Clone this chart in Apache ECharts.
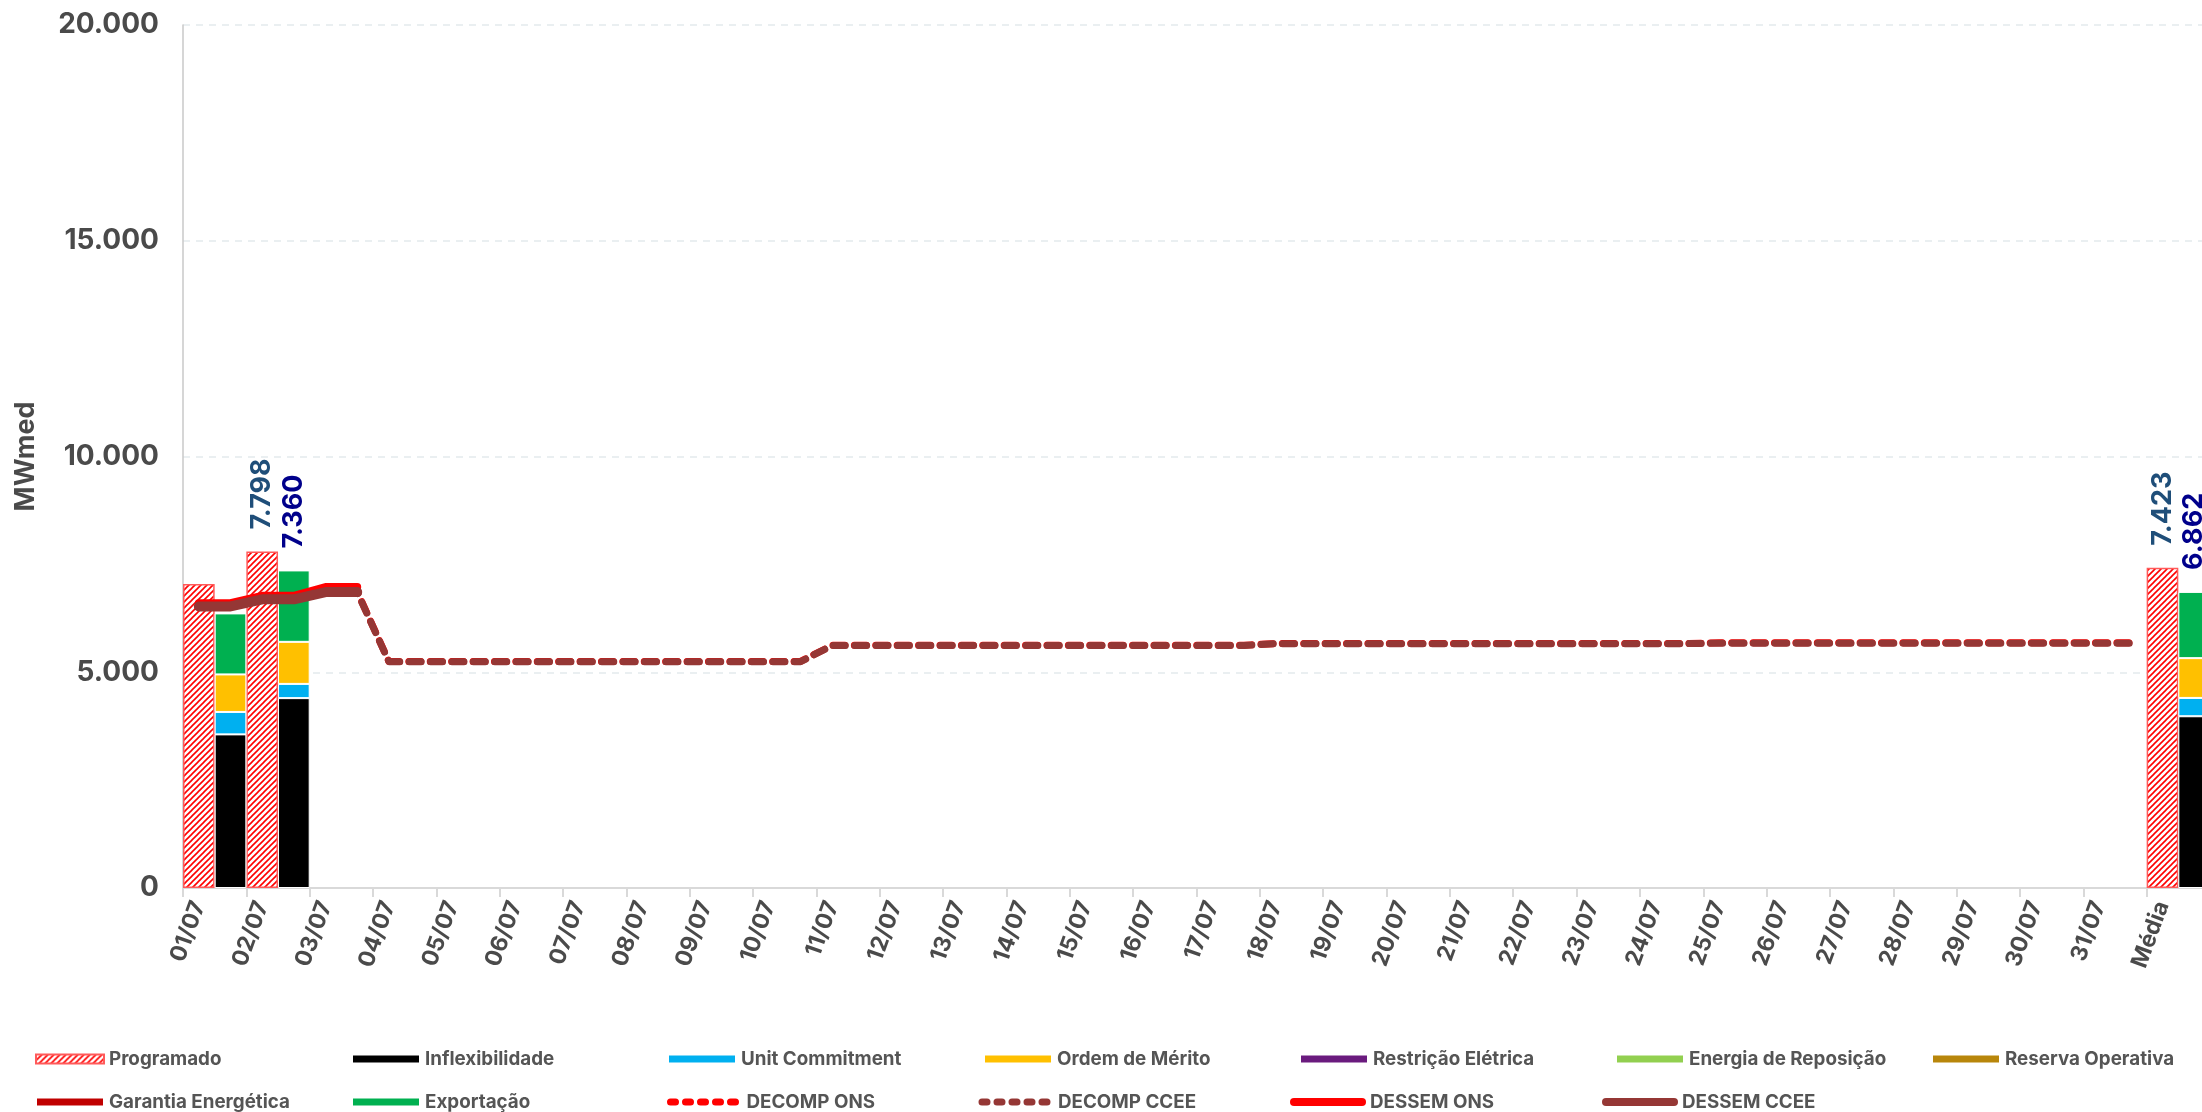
<!DOCTYPE html>
<html><head><meta charset="utf-8">
<script src="https://cdn.jsdelivr.net/npm/echarts@6/dist/echarts.min.js"></script>
<style>html,body{margin:0;padding:0;background:#fff}#c{width:2202px;height:1112px}</style>
</head><body><div id="c"></div>
<script>
// ---- categories (one per day + average) ----
const days = ['01/07','02/07','03/07','04/07','05/07','06/07','07/07','08/07','09/07','10/07',
  '11/07','12/07','13/07','14/07','15/07','16/07','17/07','18/07','19/07','20/07',
  '21/07','22/07','23/07','24/07','25/07','26/07','27/07','28/07','29/07','30/07','31/07','Média'];
const N = null;
// ---- bar series (MWmed), one value per day ----
const programado         = [7048,7798,N,N,N,N,N,N,N,N,N,N,N,N,N,N,N,N,N,N,N,N,N,N,N,N,N,N,N,N,N,7423];
const inflexibilidade    = [3560,4400,N,N,N,N,N,N,N,N,N,N,N,N,N,N,N,N,N,N,N,N,N,N,N,N,N,N,N,N,N,3980];
const unitCommitment     = [520,330,N,N,N,N,N,N,N,N,N,N,N,N,N,N,N,N,N,N,N,N,N,N,N,N,N,N,N,N,N,425];
const ordemMerito        = [870,975,N,N,N,N,N,N,N,N,N,N,N,N,N,N,N,N,N,N,N,N,N,N,N,N,N,N,N,N,N,922];
const restricaoEletrica  = [N,N,N,N,N,N,N,N,N,N,N,N,N,N,N,N,N,N,N,N,N,N,N,N,N,N,N,N,N,N,N,N];
const energiaReposicao   = [N,N,N,N,N,N,N,N,N,N,N,N,N,N,N,N,N,N,N,N,N,N,N,N,N,N,N,N,N,N,N,N];
const reservaOperativa   = [N,N,N,N,N,N,N,N,N,N,N,N,N,N,N,N,N,N,N,N,N,N,N,N,N,N,N,N,N,N,N,N];
const garantiaEnergetica = [N,N,N,N,N,N,N,N,N,N,N,N,N,N,N,N,N,N,N,N,N,N,N,N,N,N,N,N,N,N,N,N];
const exportacao         = [1414,1655,N,N,N,N,N,N,N,N,N,N,N,N,N,N,N,N,N,N,N,N,N,N,N,N,N,N,N,N,N,1535];
const labeledDays = ['02/07','Média'];
// ---- line series, two points per day (01/07 .. 31/07) ----
const decompOns = [N,N,N,N,6870,6870,
  5250,5250,5250,5250,5250,5250,5250,5250,5250,5250,5250,5250,5250,5250,
  5625,5625,5625,5625,5625,5625,5625,5625,5625,5625,5625,5625,5625,5625,
  5665,5665,5665,5665,5665,5665,5665,5665,5665,5665,5665,5665,5665,5665,
  5685,5685,5685,5685,5685,5685,5685,5685,5685,5685,5685,5685,5685,5685];
const decompCcee = [N,N,N,N,6858,6858,
  5246,5246,5246,5246,5246,5246,5246,5246,5246,5246,5246,5246,5246,5246,
  5621,5621,5621,5621,5621,5621,5621,5621,5621,5621,5621,5621,5621,5621,
  5663,5663,5663,5663,5663,5663,5663,5663,5663,5663,5663,5663,5663,5663,
  5672,5672,5672,5672,5672,5672,5672,5672,5672,5672,5672,5672,5672,5672];
const dessemOns  = [6600,6600,6772,6772,6974,6974];
const dessemCcee = [6525,6525,6690,6690,6858,6858];
const yTicks = {min: 0, max: 20000, interval: 5000};

// ---- build half-day slots: each day = [programado slot, realizado slot] ----
const slots = [];
days.forEach(d => { slots.push(d + '|a'); slots.push(d + '|b'); });
function toSlots(arr, half) {
  const out = new Array(slots.length).fill(null);
  arr.forEach((v, i) => { out[2 * i + half] = v; });
  return out;
}
function linePad(arr) {
  const out = new Array(slots.length).fill(null);
  arr.forEach((v, i) => { out[i] = v; });
  return out;
}
const fmt = v => Math.round(v).toString().replace(/\B(?=(\d{3})+(?!\d))/g, '.');
const totals = days.map((d, i) => {
  const parts = [inflexibilidade, unitCommitment, ordemMerito, restricaoEletrica, energiaReposicao,
    reservaOperativa, garantiaEnergetica, exportacao].map(a => a[i] || 0);
  return parts.reduce((s, x) => s + x, 0);
});

// hatch pattern for "Programado"
const pc = document.createElement('canvas');
pc.width = 6; pc.height = 6;
const g = pc.getContext('2d');
g.fillStyle = '#ffffff'; g.fillRect(0, 0, 6, 6);
g.strokeStyle = '#ff0000'; g.lineWidth = 1.6;
g.beginPath(); g.moveTo(-1, 7); g.lineTo(7, -1); g.stroke();
g.beginPath(); g.moveTo(-1, 1); g.lineTo(1, -1); g.stroke();
g.beginPath(); g.moveTo(5, 7); g.lineTo(7, 5); g.stroke();
const hatch = {image: pc, repeat: 'repeat'};

const FONT = 'Inter';
const stackNames = ['Inflexibilidade','Unit Commitment','Ordem de Mérito','Restrição Elétrica',
  'Energia de Reposição','Reserva Operativa','Garantia Energética','Exportação'];
const stackData = [inflexibilidade, unitCommitment, ordemMerito, restricaoEletrica,
  energiaReposicao, reservaOperativa, garantiaEnergetica, exportacao];
const stackColors = ['#000000','#00b0f0','#ffc000','#6a1b7e','#92d050','#b8860b','#c00000','#00b050'];

const series = [];
series.push({
  name: 'Programado', type: 'bar', barGap: '-100%', barCategoryGap: '0%',
  data: toSlots(programado, 0).map((v, k) => {
    if (v == null) return null;
    const d = days[Math.floor(k / 2)];
    return {value: v, label: {show: labeledDays.includes(d)}};
  }),
  itemStyle: {color: hatch, borderColor: '#ff5a5a', borderWidth: 1.5},
  label: {show: false, position: 'top', rotate: 90, align: 'left', verticalAlign: 'middle',
    distance: 22, color: '#1f4e79', fontFamily: FONT, fontWeight: 'bold', fontSize: 27,
    formatter: p => fmt(p.value)},
  z: 2
});
stackNames.forEach((nm, j) => {
  const isTop = nm === 'Exportação';
  series.push({
    name: nm, type: 'bar', stack: 'real', barGap: '-100%', barCategoryGap: '0%',
    data: toSlots(stackData[j], 1).map((v, k) => {
      if (v == null) return null;
      const di = Math.floor(k / 2);
      return isTop ? {value: v, label: {show: labeledDays.includes(days[di])}} : v;
    }),
    itemStyle: {color: stackColors[j], borderColor: '#ffffff', borderWidth: 1},
    label: isTop ? {show: false, position: 'top', rotate: 90, align: 'left', verticalAlign: 'middle',
      distance: 22, color: '#00008b', fontFamily: FONT, fontWeight: 'bold', fontSize: 27,
      formatter: p => fmt(totals[Math.floor(p.dataIndex / 2)])} : {show: false}
  });
});
series.push({
  name: 'DECOMP ONS', type: 'line', data: linePad(decompOns), symbol: 'none', connectNulls: false,
  itemStyle: {color: '#ff0000'},
  lineStyle: {color: '#ff0000', width: 7, type: [12, 9.4], cap: 'round', join: 'round'}
});
series.push({
  name: 'DECOMP CCEE', type: 'line', data: linePad(decompCcee), symbol: 'none',
  itemStyle: {color: '#953735'},
  lineStyle: {color: '#953735', width: 7, type: [12, 9.4], cap: 'round', join: 'round'}
});
series.push({
  name: 'DESSEM ONS', type: 'line', data: linePad(dessemOns), symbol: 'none',
  itemStyle: {color: '#ff0000'},
  lineStyle: {color: '#ff0000', width: 8, cap: 'round', join: 'round'}
});
series.push({
  name: 'DESSEM CCEE', type: 'line', data: linePad(dessemCcee), symbol: 'none',
  itemStyle: {color: '#953735'},
  lineStyle: {color: '#953735', width: 10, cap: 'round', join: 'round'}
});

const legendText = {fontFamily: FONT, fontWeight: 'bold', fontSize: 18.8, color: '#555555', width: 202, lineHeight: 20};
const legendCommon = {
  left: 30, orient: 'horizontal', width: 2400,
  itemWidth: 68, itemHeight: 9, itemGap: 40,
  textStyle: legendText,
  selectedMode: false
};
const dashLegend = {width: 7, type: [5, 10], cap: 'round'};
const solidLegend = {width: 8, type: 'solid', cap: 'round'};
const lineText = Object.assign({}, legendText, {width: 192, padding: [0, 0, 0, 3]});

const option = {
  animation: false,
  backgroundColor: '#ffffff',
  grid: {left: 183, top: 25, width: 2027, height: 863, containLabel: false, outerBoundsMode: 'none'},
  legend: [
    Object.assign({}, legendCommon, {top: 1044, data: [
      {name: 'Programado', icon: 'rect'}, {name: 'Inflexibilidade', icon: 'rect'},
      {name: 'Unit Commitment', icon: 'rect'}, {name: 'Ordem de Mérito', icon: 'rect'},
      {name: 'Restrição Elétrica', icon: 'rect'}, {name: 'Energia de Reposição', icon: 'rect'},
      {name: 'Reserva Operativa', icon: 'rect'}]}),
    Object.assign({}, legendCommon, {top: 1087, data: [
      {name: 'Garantia Energética', icon: 'rect'}, {name: 'Exportação', icon: 'rect'},
      {name: 'DECOMP ONS', itemStyle: {opacity: 0}, lineStyle: dashLegend, textStyle: lineText},
      {name: 'DECOMP CCEE', itemStyle: {opacity: 0}, lineStyle: dashLegend, textStyle: lineText},
      {name: 'DESSEM ONS', itemStyle: {opacity: 0}, lineStyle: solidLegend, textStyle: lineText},
      {name: 'DESSEM CCEE', itemStyle: {opacity: 0}, lineStyle: solidLegend, textStyle: lineText}]})
  ],
  xAxis: {
    type: 'category', data: slots, boundaryGap: true,
    axisLine: {lineStyle: {color: '#d9d9d9', width: 2}},
    axisTick: {show: true, length: 9, interval: (i) => i % 2 === 0, lineStyle: {color: '#d9d9d9', width: 2}},
    axisLabel: {
      interval: (i) => i % 2 === 0, rotate: 70, margin: 14,
      fontFamily: FONT, fontWeight: 'bold', fontSize: 23, color: '#4a4a4a',
      formatter: v => v.endsWith('|a') ? v.slice(0, -2) : ''
    },
    splitLine: {show: false}
  },
  yAxis: {
    type: 'value', min: yTicks.min, max: yTicks.max, interval: yTicks.interval,
    name: 'MWmed', nameLocation: 'middle', nameGap: 144, nameRotate: 90,
    nameTextStyle: {fontFamily: FONT, fontWeight: 'bold', fontSize: 27, color: '#4a4a4a'},
    axisLine: {show: true, lineStyle: {color: '#c8c8c8', width: 1.5}},
    axisTick: {show: false},
    axisLabel: {margin: 24, fontFamily: FONT, fontWeight: 'bold', fontSize: 28, color: '#4a4a4a', formatter: v => fmt(v)},
    splitLine: {show: true, lineStyle: {color: '#e4eaed', width: 1.5, type: [7, 6]}}
  },
  series: series
};
const chart = echarts.init(document.getElementById('c'), null, {renderer: 'canvas'});
chart.setOption(option);
</script></body></html>
